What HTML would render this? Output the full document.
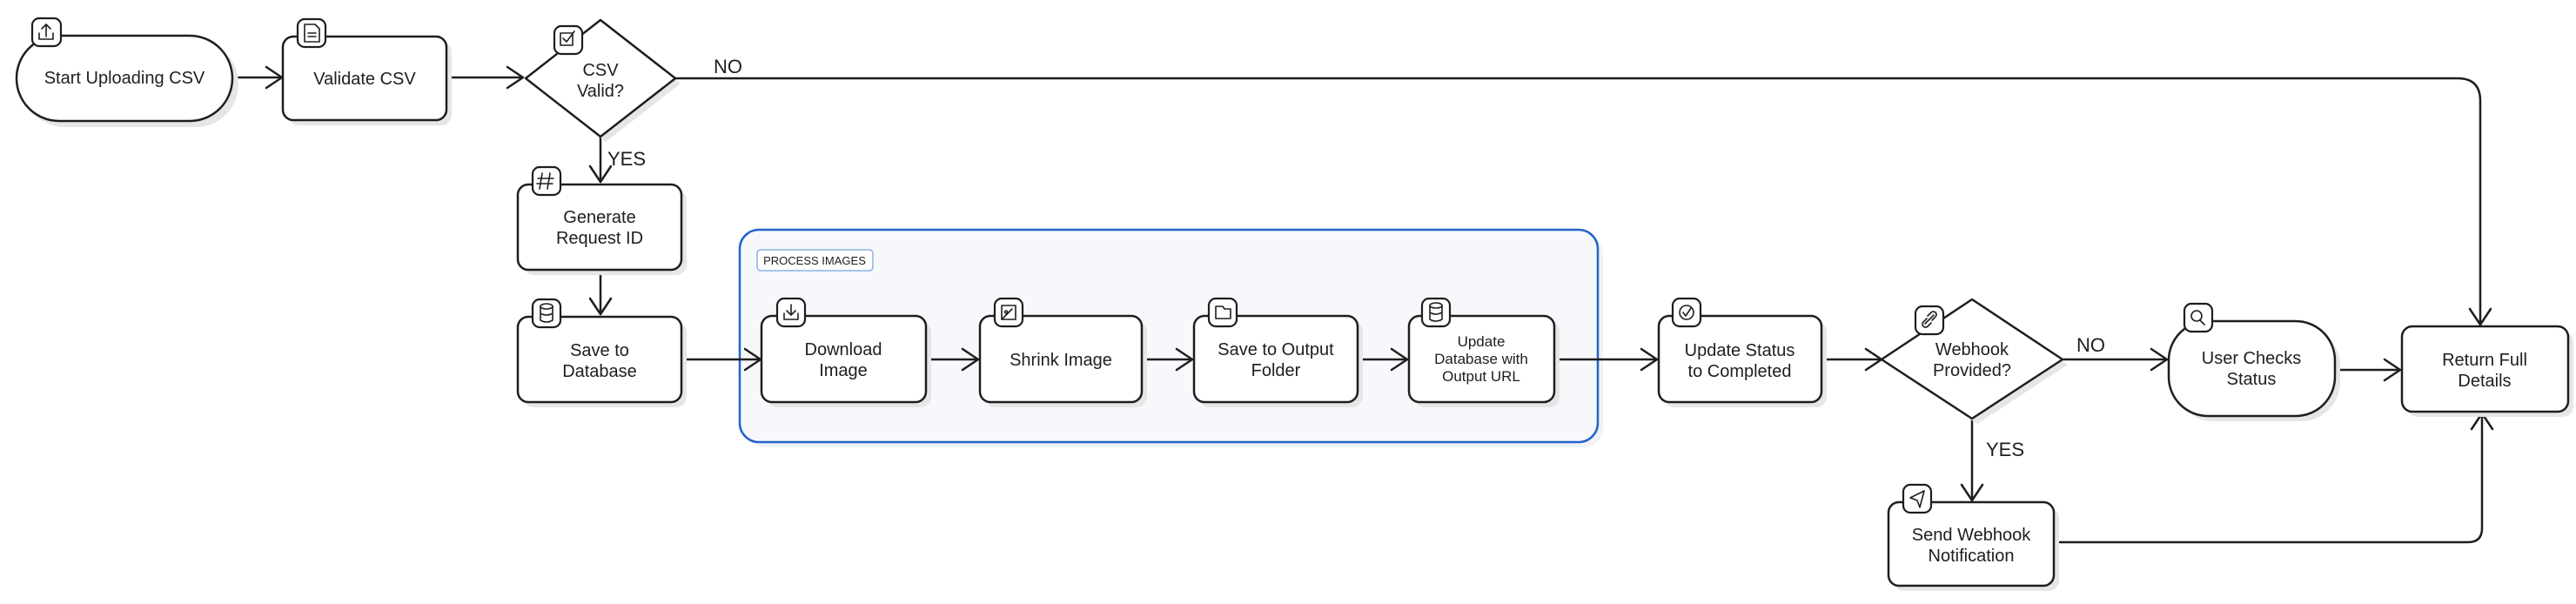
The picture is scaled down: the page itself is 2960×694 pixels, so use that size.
<!DOCTYPE html>
<html><head><meta charset="utf-8"><style>
html,body{margin:0;padding:0;background:#fff;}
svg{display:block;}
text{font-family:"Liberation Sans",sans-serif;fill:#1e1e1e;}
</style></head><body>
<svg width="2960" height="694" viewBox="0 0 2960 694" xmlns="http://www.w3.org/2000/svg">
<defs>
<g id="ah"><path d="M-18,-12 L0,0 L-18,12" fill="none" stroke="#1e1e1e" stroke-width="2.5" stroke-linecap="round" stroke-linejoin="round"/></g>
</defs>

<!-- group box -->
<rect x="856" y="270" width="986" height="244" rx="22" fill="#e9e9ee" opacity="0.6"/>
<rect x="850" y="264" width="986" height="244" rx="22" fill="#f7f8fc" stroke="#2563c9" stroke-width="2.5"/>
<rect x="870" y="287" width="133" height="24" rx="4" fill="#fff" stroke="#8fb0e6" stroke-width="1.5"/>
<text x="936" y="304" font-size="13" text-anchor="middle">PROCESS IMAGES</text>

<g fill="none" stroke="#1e1e1e" stroke-width="2.5" stroke-linecap="round">
<!-- connectors -->
<path d="M267 89 H323"/>
<path d="M513 89 H600"/>
<path d="M776 90 H2824 Q2850 90 2850 116 V372"/>
<path d="M690 157 V208"/>
<path d="M690 310 V360"/>
<path d="M783 413 H872"/>
<path d="M1064 413 H1122"/>
<path d="M1312 413 H1368"/>
<path d="M1560 413 H1615"/>
<path d="M1786 413 H1902"/>
<path d="M2093 413 H2160"/>
<path d="M2370 413 H2488"/>
<path d="M2683 425 H2756"/>
<path d="M2266 481 V573"/>
<path d="M2360 623 H2836 Q2852 623 2852 607 V476"/>
</g>
<use href="#ah" transform="translate(324,89)"/>
<use href="#ah" transform="translate(601,89)"/>
<use href="#ah" transform="translate(2850,373) rotate(90)"/>
<use href="#ah" transform="translate(690,209) rotate(90)"/>
<use href="#ah" transform="translate(690,361) rotate(90)"/>
<use href="#ah" transform="translate(874,413)"/>
<use href="#ah" transform="translate(1124,413)"/>
<use href="#ah" transform="translate(1370,413)"/>
<use href="#ah" transform="translate(1617,413)"/>
<use href="#ah" transform="translate(1904,413)"/>
<use href="#ah" transform="translate(2162,413)"/>
<use href="#ah" transform="translate(2490,413)"/>
<use href="#ah" transform="translate(2758,425)"/>
<use href="#ah" transform="translate(2266,575) rotate(90)"/>
<use href="#ah" transform="translate(2852,475) rotate(-90)"/>

<g font-size="22">
<text x="820" y="84">NO</text>
<text x="698" y="190">YES</text>
<text x="2386" y="404">NO</text>
<text x="2282" y="524">YES</text>
</g>

<!-- shadows -->
<g fill="#e6e6e6">
<rect x="25" y="47" width="249" height="99" rx="49"/>
<rect x="331" y="48" width="188" height="96" rx="12"/>
<path d="M696 29 L782 96 L696 163 L610 96 Z"/>
<rect x="601" y="218" width="188" height="98" rx="12"/>
<rect x="601" y="370" width="188" height="98" rx="12"/>
<rect x="881" y="369" width="189" height="99" rx="12"/>
<rect x="1132" y="369" width="186" height="99" rx="12"/>
<rect x="1378" y="369" width="188" height="99" rx="12"/>
<rect x="1625" y="369" width="167" height="99" rx="12"/>
<rect x="1912" y="369" width="187" height="99" rx="12"/>
<path d="M2272 350 L2376 419 L2272 487 L2168 419 Z"/>
<rect x="2498" y="375" width="191" height="109" rx="45"/>
<rect x="2766" y="381" width="191" height="98" rx="12"/>
<rect x="2176" y="583" width="190" height="96" rx="12"/>
</g>

<!-- nodes -->
<g fill="#fff" stroke="#1e1e1e" stroke-width="2.5">
<rect x="19" y="41" width="248" height="98" rx="49"/>
<rect x="325" y="42" width="188" height="96" rx="12"/>
<path d="M690 23 L776 90 L690 157 L604 90 Z" stroke-linejoin="round"/>
<rect x="595" y="212" width="188" height="98" rx="12"/>
<rect x="595" y="364" width="188" height="98" rx="12"/>
<rect x="875" y="363" width="189" height="99" rx="12"/>
<rect x="1126" y="363" width="186" height="99" rx="12"/>
<rect x="1372" y="363" width="188" height="99" rx="12"/>
<rect x="1619" y="363" width="167" height="99" rx="12"/>
<rect x="1906" y="363" width="187" height="99" rx="12"/>
<path d="M2266 344 L2370 413 L2266 481 L2162 413 Z" stroke-linejoin="round"/>
<rect x="2492" y="369" width="191" height="109" rx="45"/>
<rect x="2760" y="375" width="191" height="98" rx="12"/>
<rect x="2170" y="577" width="190" height="96" rx="12"/>
</g>

<!-- badges -->
<g fill="#fff" stroke="#1e1e1e" stroke-width="2.2">
<rect x="37" y="21" width="33" height="32" rx="8"/>
<rect x="342" y="22" width="32" height="32" rx="8"/>
<rect x="637" y="30" width="32" height="32" rx="8"/>
<rect x="612" y="192" width="32" height="32" rx="8"/>
<rect x="612" y="344" width="32" height="32" rx="8"/>
<rect x="893" y="343" width="32" height="32" rx="8"/>
<rect x="1143" y="343" width="32" height="32" rx="8"/>
<rect x="1389" y="343" width="32" height="32" rx="8"/>
<rect x="1634" y="343" width="32" height="32" rx="8"/>
<rect x="1922" y="343" width="32" height="32" rx="8"/>
<rect x="2201" y="352" width="32" height="32" rx="8"/>
<rect x="2510" y="349" width="32" height="32" rx="8"/>
<rect x="2187" y="557" width="32" height="32" rx="8"/>
</g>
<!-- badge glyphs -->
<g fill="none" stroke="#1e1e1e" stroke-width="1.6" stroke-linecap="round" stroke-linejoin="round">
<path d="M53 42 V28 M48 33 L53 28 L58 33 M45 38 V45 H61 V38"/>
<path d="M350 28 H362 L367 33 V48 H350 Z M354 38 H363 M354 42 H363"/>
<path d="M644 38 H658 V52 H644 Z M647 44 L651 48 L660 36"/>
<path d="M623 199 L620 217 M632 199 L629 217 M618 205 H636 M617 211 H635"/>
<ellipse cx="628" cy="352" rx="7" ry="3"/><path d="M621 352 V368 Q628 372 635 368 V352 M621 360 Q628 364 635 360"/>
<path d="M909 350 V362 M904 357 L909 362 L914 357 M901 360 V367 H917 V360"/>
<path d="M1151 351 H1167 V367 H1151 Z M1151 367 L1163 355 M1156 357 A1.5 1.5 0 1 0 1156.1 357"/>
<path d="M1397 352 H1405 L1407 355 H1414 V366 H1397 Z"/>
<ellipse cx="1650" cy="351" rx="7" ry="3"/><path d="M1643 351 V367 Q1650 371 1657 367 V351 M1643 359 Q1650 363 1657 359"/>
<circle cx="1938" cy="359" r="8"/><path d="M1934 359 L1937 363 L1943 354"/>
<path d="M2212 372 L2222 362 M2214 366 L2210 370 A3 3 0 0 0 2215 375 L2219 371 M2220 368 L2224 364 A3 3 0 0 0 2219 359 L2215 363"/>
<circle cx="2524" cy="363" r="6"/><path d="M2528 368 L2533 373"/>
<path d="M2211 564 L2195 572 L2203 575 L2206 583 Z"/>
</g>

<!-- labels -->
<g font-size="20" text-anchor="middle">
<text x="143" y="96">Start Uploading CSV</text>
<text x="419" y="97">Validate CSV</text>
<text x="690" y="87">CSV</text><text x="690" y="111">Valid?</text>
<text x="689" y="256">Generate</text><text x="689" y="280">Request ID</text>
<text x="689" y="409">Save to</text><text x="689" y="433">Database</text>
<text x="969" y="408">Download</text><text x="969" y="432">Image</text>
<text x="1219" y="420">Shrink Image</text>
<text x="1466" y="408">Save to Output</text><text x="1466" y="432">Folder</text>
<g font-size="17"><text x="1702" y="398">Update</text><text x="1702" y="418">Database with</text><text x="1702" y="438">Output URL</text></g>
<text x="1999" y="409">Update Status</text><text x="1999" y="433">to Completed</text>
<text x="2266" y="408">Webhook</text><text x="2266" y="432">Provided?</text>
<text x="2587" y="418">User Checks</text><text x="2587" y="442">Status</text>
<text x="2855" y="420">Return Full</text><text x="2855" y="444">Details</text>
<text x="2265" y="621">Send Webhook</text><text x="2265" y="645">Notification</text>
</g>
</svg>
</body></html>
